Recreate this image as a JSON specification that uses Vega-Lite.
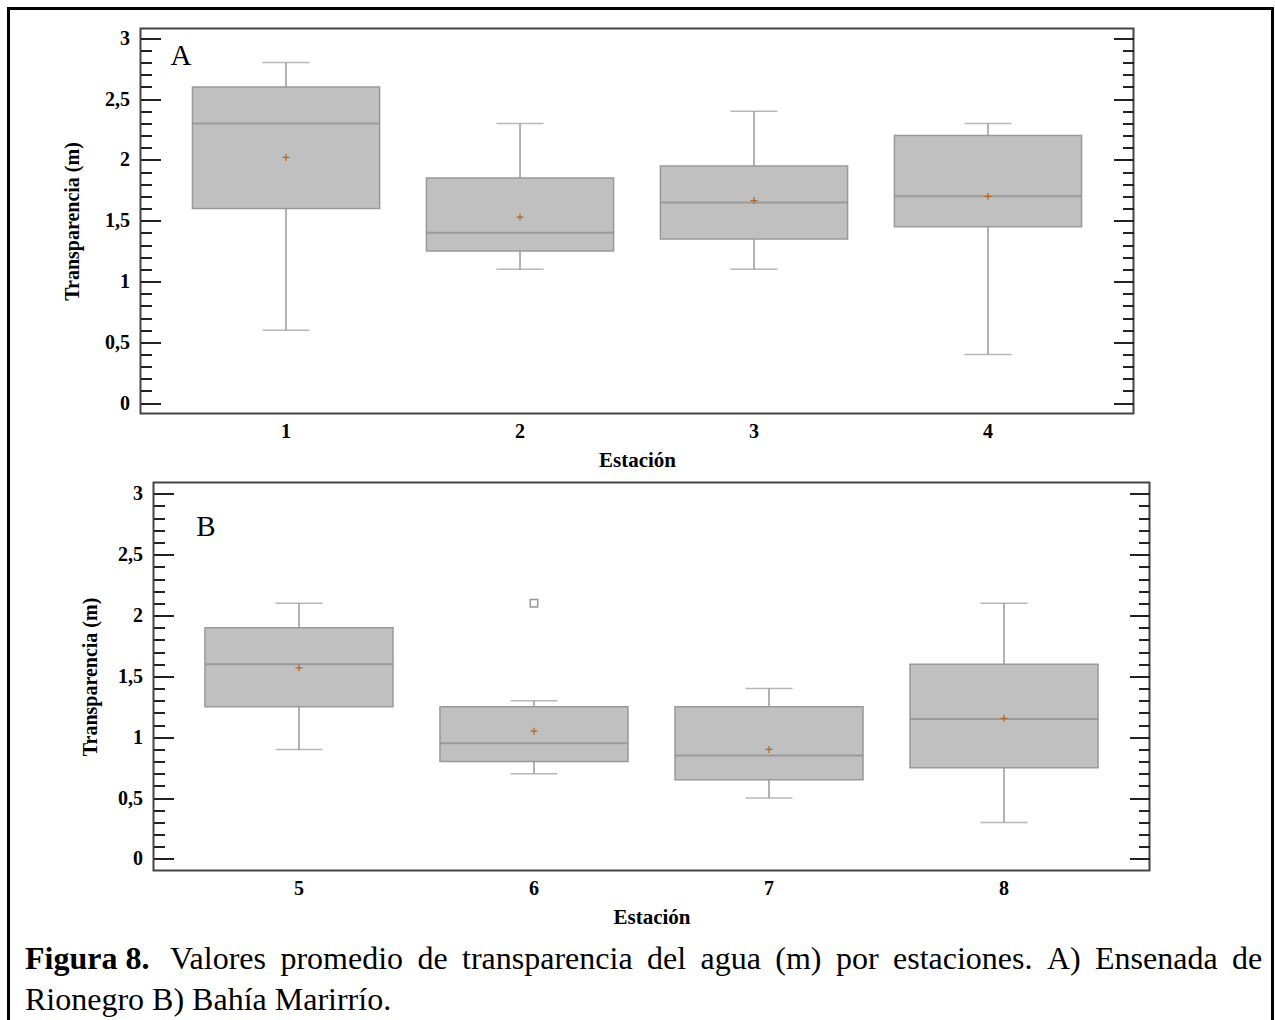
{
  "$schema": "https://vega.github.io/schema/vega-lite/v6.json",
  "autosize": {"type": "none"},
  "padding": {"left": 8.5, "top": 8.5, "right": 2.5, "bottom": -28.5},
  "background": "white",
  "params": [{"name": "width", "value": 1264}, {"name": "height", "value": 1040}],
  "datasets": {
    "A": [
      {"station": "1", "lo": 0.6, "q1": 1.6, "med": 2.3, "q3": 2.6, "hi": 2.8, "mean": 2.02},
      {"station": "2", "lo": 1.1, "q1": 1.25, "med": 1.4, "q3": 1.85, "hi": 2.3, "mean": 1.53},
      {"station": "3", "lo": 1.1, "q1": 1.35, "med": 1.65, "q3": 1.95, "hi": 2.4, "mean": 1.665},
      {"station": "4", "lo": 0.4, "q1": 1.45, "med": 1.7, "q3": 2.2, "hi": 2.3, "mean": 1.7}
    ],
    "B": [
      {"station": "5", "lo": 0.9, "q1": 1.25, "med": 1.6, "q3": 1.9, "hi": 2.1, "mean": 1.57, "out": null},
      {"station": "6", "lo": 0.7, "q1": 0.8, "med": 0.95, "q3": 1.25, "hi": 1.3, "mean": 1.05, "out": 2.1},
      {"station": "7", "lo": 0.5, "q1": 0.65, "med": 0.85, "q3": 1.25, "hi": 1.4, "mean": 0.9, "out": null},
      {"station": "8", "lo": 0.3, "q1": 0.75, "med": 1.15, "q3": 1.6, "hi": 2.1, "mean": 1.155, "out": null}
    ],
    "cap": [
      {"line": "1", "part": "a", "text": "Figura 8."},
      {"line": "1", "part": "b", "text": "Valores \u2009promedio \u2009de \u2009transparencia \u2009del \u2009agua \u2009(m) \u2009por \u2009estaciones. \u2009A) \u2009Ensenada \u2009de"},
      {"line": "2", "part": "c", "text": "Rionegro B) Bahía Marirrío."}
    ]
  },
  "config": {
    "group": {"stroke": "#000000", "strokeWidth": 3},
    "view": {"stroke": "#444444", "strokeWidth": 2},
    "font": "Liberation Serif",
    "title": {"color": "#000000", "font": "Liberation Serif"}
  },
  "spacing": 10,
  "vconcat": [
    {
      "width": 1, "height": 7.5,
      "view": {"stroke": null},
      "data": {"values": [{}]},
      "mark": {"type": "point", "size": 0, "opacity": 0}
    },
    {
      "spacing": 12,
      "hconcat": [
        {
          "width": 40.5, "height": 1,
          "view": {"stroke": null},
          "data": {"values": [{}]},
          "mark": {"type": "point", "size": 0, "opacity": 0}
        },
        {
          "width": 993,
          "height": 385,
          "data": {"name": "A"},
          "encoding": {
            "x": {
              "field": "station", "type": "ordinal",
              "scale": {"paddingInner": 0.2, "paddingOuter": 0.222},
              "axis": {"labelAngle": 0, "ticks": false, "domain": false, "labelPadding": 8, "labelFont": "Liberation Serif", "labelFontSize": 20, "labelFontWeight": "bold", "labelColor": "#000000", "title": "Estación", "titleFont": "Liberation Serif", "titleFontSize": 21, "titleFontWeight": "bold", "titleColor": "#000000", "titlePadding": 8}
            }
          },
          "resolve": {"axis": {"y": "independent"}},
          "layer": [
            {
              "mark": {"type": "rule", "color": "#999999", "strokeWidth": 1.5},
              "encoding": {
                "y": {"field": "lo", "type": "quantitative", "scale": {"domain": [-0.085, 3.08], "nice": false, "zero": false},
                  "axis": {"values": [0,0.1,0.2,0.3,0.4,0.5,0.6,0.7,0.8,0.9,1,1.1,1.2,1.3,1.4,1.5,1.6,1.7,1.8,1.9,2,2.1,2.2,2.3,2.4,2.5,2.6,2.7,2.8,2.9,3],
                    "labelExpr": "abs(datum.value*2 - round(datum.value*2)) < 0.01 ? replace('' + round(datum.value*10)/10, '.', ',') : ''",
                    "tickSize": {"condition": {"test": "abs(datum.value*2 - round(datum.value*2)) < 0.01", "value": -20}, "value": -11},
                    "tickWidth": 2, "tickColor": "#222222", "domain": false, "grid": false,
                    "labelFont": "Liberation Serif", "labelFontSize": 20, "labelFontWeight": "bold", "labelColor": "#000000", "labelPadding": 31,
                    "title": "Transparencia (m)", "titleFont": "Liberation Serif", "titleFontSize": 20, "titleFontWeight": "bold", "titleColor": "#000000", "titlePadding": 22}},
                "y2": {"field": "hi"}
              }
            },
            {
              "mark": {"type": "bar", "fill": "#c0c0c0", "stroke": "#999999", "strokeWidth": 1.5},
              "encoding": {
                "y": {"field": "q1", "type": "quantitative", "scale": {"domain": [-0.085, 3.08], "nice": false, "zero": false},
                  "axis": {"orient": "right", "values": [0,0.1,0.2,0.3,0.4,0.5,0.6,0.7,0.8,0.9,1,1.1,1.2,1.3,1.4,1.5,1.6,1.7,1.8,1.9,2,2.1,2.2,2.3,2.4,2.5,2.6,2.7,2.8,2.9,3],
                    "labels": false,
                    "tickSize": {"condition": {"test": "abs(datum.value*2 - round(datum.value*2)) < 0.01", "value": -20}, "value": -11},
                    "tickWidth": 2, "tickColor": "#222222", "domain": false, "grid": false, "title": null}},
                "y2": {"field": "q3"}
              }
            },
            {
              "mark": {"type": "tick", "color": "#8c8c8c", "thickness": 2, "size": 187},
              "encoding": {"y": {"field": "med", "type": "quantitative", "scale": {"domain": [-0.085, 3.08], "nice": false, "zero": false}, "axis": null}}
            },
            {
              "mark": {"type": "tick", "color": "#999999", "thickness": 1.5, "size": 47},
              "encoding": {"y": {"field": "lo", "type": "quantitative", "scale": {"domain": [-0.085, 3.08], "nice": false, "zero": false}, "axis": null}}
            },
            {
              "mark": {"type": "tick", "color": "#999999", "thickness": 1.5, "size": 47},
              "encoding": {"y": {"field": "hi", "type": "quantitative", "scale": {"domain": [-0.085, 3.08], "nice": false, "zero": false}, "axis": null}}
            },
            {
              "mark": {"type": "point", "shape": "M-1,0L1,0M0,-1L0,1", "filled": false, "color": "#b5651d", "strokeWidth": 1.2, "size": 49, "opacity": 1},
              "encoding": {"y": {"field": "mean", "type": "quantitative", "scale": {"domain": [-0.085, 3.08], "nice": false, "zero": false}, "axis": null}}
            },
            {
              "data": {"values": [{}]},
              "mark": {"type": "text", "text": "A", "font": "Liberation Serif", "fontSize": 29, "color": "#000000", "align": "center", "baseline": "middle", "dx": -105},
              "encoding": {
                "x": {"datum": "1", "type": "ordinal"},
                "y": {"datum": 2.85, "type": "quantitative", "scale": {"domain": [-0.085, 3.08], "nice": false, "zero": false}, "axis": null}
              }
            }
          ]
        }
      ]
    },
    {
      "spacing": 12,
      "hconcat": [
        {
          "width": 58.5, "height": 1,
          "view": {"stroke": null},
          "data": {"values": [{}]},
          "mark": {"type": "point", "size": 0, "opacity": 0}
        },
        {
          "width": 996,
          "height": 388,
          "data": {"name": "B"},
          "encoding": {
            "x": {
              "field": "station", "type": "ordinal",
              "scale": {"paddingInner": 0.2, "paddingOuter": 0.219},
              "axis": {"labelAngle": 0, "ticks": false, "domain": false, "labelPadding": 8, "labelFont": "Liberation Serif", "labelFontSize": 20, "labelFontWeight": "bold", "labelColor": "#000000", "title": "Estación", "titleFont": "Liberation Serif", "titleFontSize": 21, "titleFontWeight": "bold", "titleColor": "#000000", "titlePadding": 8}
            }
          },
          "resolve": {"axis": {"y": "independent"}},
          "layer": [
            {
              "mark": {"type": "rule", "color": "#999999", "strokeWidth": 1.5},
              "encoding": {
                "y": {"field": "lo", "type": "quantitative", "scale": {"domain": [-0.095, 3.093], "nice": false, "zero": false},
                  "axis": {"values": [0,0.1,0.2,0.3,0.4,0.5,0.6,0.7,0.8,0.9,1,1.1,1.2,1.3,1.4,1.5,1.6,1.7,1.8,1.9,2,2.1,2.2,2.3,2.4,2.5,2.6,2.7,2.8,2.9,3],
                    "labelExpr": "abs(datum.value*2 - round(datum.value*2)) < 0.01 ? replace('' + round(datum.value*10)/10, '.', ',') : ''",
                    "tickSize": {"condition": {"test": "abs(datum.value*2 - round(datum.value*2)) < 0.01", "value": -20}, "value": -11},
                    "tickWidth": 2, "tickColor": "#222222", "domain": false, "grid": false,
                    "labelFont": "Liberation Serif", "labelFontSize": 20, "labelFontWeight": "bold", "labelColor": "#000000", "labelPadding": 31,
                    "title": "Transparencia (m)", "titleFont": "Liberation Serif", "titleFontSize": 20, "titleFontWeight": "bold", "titleColor": "#000000", "titlePadding": 17}},
                "y2": {"field": "hi"}
              }
            },
            {
              "mark": {"type": "bar", "fill": "#c0c0c0", "stroke": "#999999", "strokeWidth": 1.5},
              "encoding": {
                "y": {"field": "q1", "type": "quantitative", "scale": {"domain": [-0.095, 3.093], "nice": false, "zero": false},
                  "axis": {"orient": "right", "values": [0,0.1,0.2,0.3,0.4,0.5,0.6,0.7,0.8,0.9,1,1.1,1.2,1.3,1.4,1.5,1.6,1.7,1.8,1.9,2,2.1,2.2,2.3,2.4,2.5,2.6,2.7,2.8,2.9,3],
                    "labels": false,
                    "tickSize": {"condition": {"test": "abs(datum.value*2 - round(datum.value*2)) < 0.01", "value": -20}, "value": -11},
                    "tickWidth": 2, "tickColor": "#222222", "domain": false, "grid": false, "title": null}},
                "y2": {"field": "q3"}
              }
            },
            {
              "mark": {"type": "tick", "color": "#8c8c8c", "thickness": 2, "size": 188},
              "encoding": {"y": {"field": "med", "type": "quantitative", "scale": {"domain": [-0.095, 3.093], "nice": false, "zero": false}, "axis": null}}
            },
            {
              "mark": {"type": "tick", "color": "#999999", "thickness": 1.5, "size": 47},
              "encoding": {"y": {"field": "lo", "type": "quantitative", "scale": {"domain": [-0.095, 3.093], "nice": false, "zero": false}, "axis": null}}
            },
            {
              "mark": {"type": "tick", "color": "#999999", "thickness": 1.5, "size": 47},
              "encoding": {"y": {"field": "hi", "type": "quantitative", "scale": {"domain": [-0.095, 3.093], "nice": false, "zero": false}, "axis": null}}
            },
            {
              "mark": {"type": "point", "shape": "M-1,0L1,0M0,-1L0,1", "filled": false, "color": "#b5651d", "strokeWidth": 1.2, "size": 49, "opacity": 1},
              "encoding": {"y": {"field": "mean", "type": "quantitative", "scale": {"domain": [-0.095, 3.093], "nice": false, "zero": false}, "axis": null}}
            },
            {
              "mark": {"type": "point", "shape": "square", "filled": false, "color": "#999999", "strokeWidth": 1.5, "size": 56, "opacity": 1},
              "encoding": {"y": {"field": "out", "type": "quantitative", "scale": {"domain": [-0.095, 3.093], "nice": false, "zero": false}, "axis": null}}
            },
            {
              "data": {"values": [{}]},
              "mark": {"type": "text", "text": "B", "font": "Liberation Serif", "fontSize": 29, "color": "#000000", "align": "center", "baseline": "middle", "dx": -93},
              "encoding": {
                "x": {"datum": "5", "type": "ordinal"},
                "y": {"datum": 2.725, "type": "quantitative", "scale": {"domain": [-0.095, 3.093], "nice": false, "zero": false}, "axis": null}
              }
            }
          ]
        }
      ]
    },
    {
      "width": 1234,
      "height": 82,
      "view": {"stroke": null},
      "data": {"name": "cap"},
      "encoding": {
        "y": {"field": "line", "type": "ordinal", "scale": {"paddingInner": 0, "paddingOuter": 0}, "axis": null},
        "text": {"field": "text"}
      },
      "layer": [
        {"transform": [{"filter": "datum.part == 'a'"}], "mark": {"type": "text", "align": "left", "baseline": "middle", "font": "Liberation Serif", "fontSize": 32, "fontWeight": "bold", "color": "#000000"}, "encoding": {"x": {"value": 16.5}}},
        {"transform": [{"filter": "datum.part == 'b'"}], "mark": {"type": "text", "align": "left", "baseline": "middle", "font": "Liberation Serif", "fontSize": 32, "color": "#000000"}, "encoding": {"x": {"value": 161.5}}},
        {"transform": [{"filter": "datum.part == 'c'"}], "mark": {"type": "text", "align": "left", "baseline": "middle", "font": "Liberation Serif", "fontSize": 32, "color": "#000000"}, "encoding": {"x": {"value": 16.5}}}
      ]
    }
  ]
}
